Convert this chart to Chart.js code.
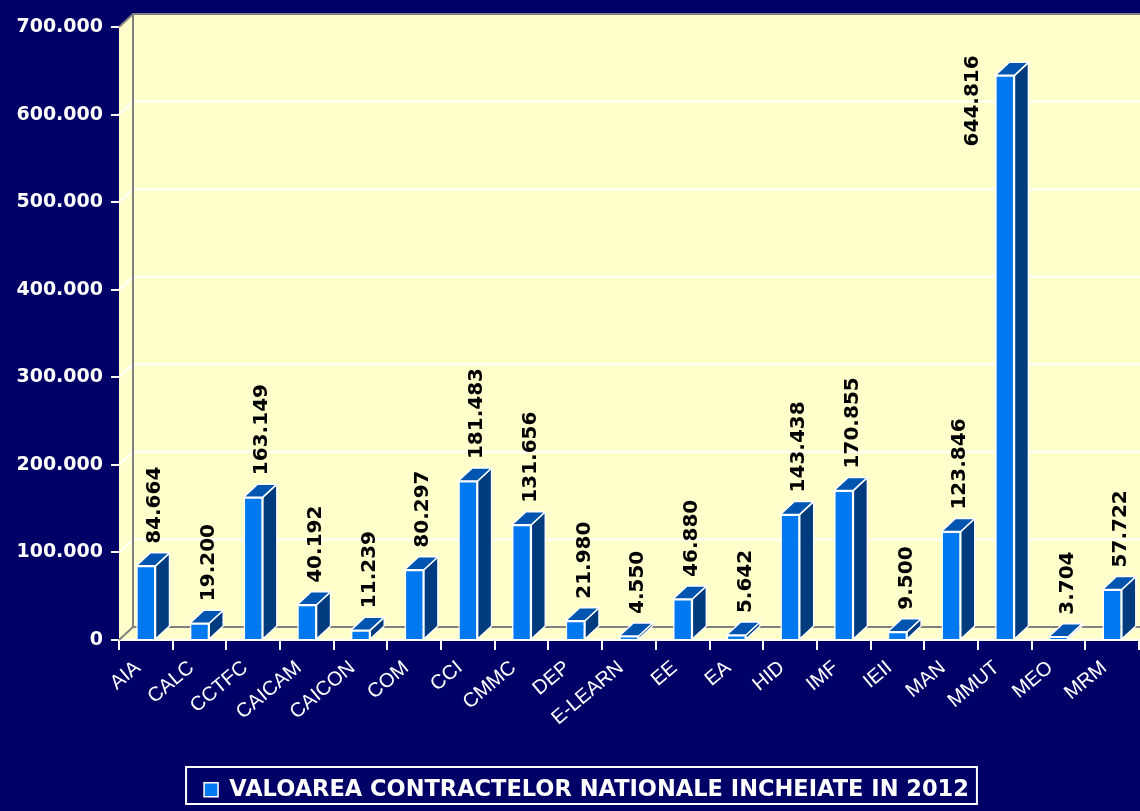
<!DOCTYPE html>
<html>
<head>
<meta charset="utf-8">
<script src="https://cdn.jsdelivr.net/npm/chart.js@4.4.1/dist/chart.umd.min.js"></script>
<style>
  html, body { margin: 0; padding: 0; background: #000066; }
  #wrap { width: 1140px; height: 811px; position: relative; }
</style>
</head>
<body>
<div id="wrap"><canvas id="chart"></canvas></div>
<script>
// Date grafic
const categories = ["AIA", "CALC", "CCTFC", "CAICAM", "CAICON", "COM", "CCI", "CMMC", "DEP", "E-LEARN",
  "EE", "EA", "HID", "IMF", "IEII", "MAN", "MMUT", "MEO", "MRM"];
const values = [84664, 19200, 163149, 40192, 11239, 80297, 181483, 131656, 21980, 4550,
  46880, 5642, 143438, 170855, 9500, 123846, 644816, 3704, 57722];
const seriesLabel = "VALOAREA CONTRACTELOR NATIONALE INCHEIATE IN 2012";
const yMax = 700000;
const yStep = 100000;

// Culori
const NAVY = "#000066";
const WALL = "#ffffcc";
const FRONT = "#0078f0";
const TOP = "#0055b0";
const SIDE = "#003c7d";
const EDGE = "#808080";

// adancimea 3D
const DX = 14;
const DY = 13;

function fmt(v) {
  return String(v).replace(/\B(?=(\d{3})+(?!\d))/g, ".");
}

// Plugin pentru peretii 3D, fetele laterale si etichete
const wall3d = {
  id: "wall3d",
  afterLayout(chart) {
    // legenda e putin deplasata spre dreapta in original
    if (chart.legend) {
      chart.legend.left += 17;
      chart.legend.right += 17;
    }
  },
  beforeDraw(chart) {
    const { ctx, chartArea: a, width, height } = chart;
    ctx.save();
    ctx.fillStyle = NAVY;
    ctx.fillRect(0, 0, width, height);
    ctx.fillStyle = WALL;
    ctx.beginPath();
    ctx.moveTo(a.left, a.top);
    ctx.lineTo(a.left + DX, a.top - DY);
    ctx.lineTo(width, a.top - DY);
    ctx.lineTo(width, a.bottom);
    ctx.lineTo(a.left, a.bottom);
    ctx.closePath();
    ctx.fill();
    ctx.restore();
  },
  beforeDatasetsDraw(chart) {
    const { ctx, chartArea: a, width } = chart;
    const y = chart.scales.y;
    ctx.save();
    ctx.lineWidth = 2;
    y.ticks.forEach((t) => {
      const py = y.getPixelForValue(t.value);
      const edge = t.value === y.min || t.value === y.max;
      ctx.strokeStyle = edge ? EDGE : "#ffffff";
      ctx.beginPath();
      ctx.moveTo(a.left, py);
      ctx.lineTo(a.left + DX, py - DY);
      ctx.lineTo(width, py - DY);
      ctx.stroke();
    });
    ctx.strokeStyle = EDGE;
    ctx.beginPath();
    ctx.moveTo(a.left + DX, a.top - DY);
    ctx.lineTo(a.left + DX, a.bottom - DY);
    ctx.stroke();
    ctx.restore();
  },
  afterDatasetsDraw(chart) {
    const { ctx, chartArea: a } = chart;
    const meta = chart.getDatasetMeta(0);
    ctx.save();
    ctx.lineWidth = 1.5;
    ctx.strokeStyle = "#ffffff";
    ctx.lineJoin = "round";
    meta.data.forEach((bar) => {
      const { x, y, base, width: w } = bar.getProps(["x", "y", "base", "width"], true);
      const r = x + w / 2;
      const l = x - w / 2;
      // fata laterala
      ctx.fillStyle = SIDE;
      ctx.beginPath();
      ctx.moveTo(r, base);
      ctx.lineTo(r + DX, base - DY);
      ctx.lineTo(r + DX, y - DY);
      ctx.lineTo(r, y);
      ctx.closePath();
      ctx.fill();
      ctx.stroke();
      // capac
      ctx.fillStyle = TOP;
      ctx.beginPath();
      ctx.moveTo(l, y);
      ctx.lineTo(l + DX, y - DY);
      ctx.lineTo(r + DX, y - DY);
      ctx.lineTo(r, y);
      ctx.closePath();
      ctx.fill();
      ctx.stroke();
    });
    // etichete valori
    ctx.font = "bold 20px 'DejaVu Sans'";
    ctx.fillStyle = "#000000";
    ctx.textAlign = "left";
    ctx.textBaseline = "middle";
    meta.data.forEach((bar, i) => {
      const { x, y, width: w } = bar.getProps(["x", "y", "width"], true);
      const txt = fmt(values[i]);
      const tw = ctx.measureText(txt).width;
      let lx = x + DX / 2 + 2;
      let ly = y - DY - 9;
      if (ly - tw < a.top - DY) {
        // nu incape deasupra, se pune langa bara
        lx = x - w / 2 - 22;
        ly = y - 20 + tw;
      }
      ctx.save();
      ctx.translate(lx, ly);
      ctx.rotate(-Math.PI / 2);
      ctx.fillText(txt, 0, 0);
      ctx.restore();
    });
    ctx.restore();
  },
  afterDraw(chart) {
    const hb = chart.legend && chart.legend.legendHitBoxes && chart.legend.legendHitBoxes[0];
    if (!hb) return;
    const ctx = chart.ctx;
    ctx.save();
    ctx.strokeStyle = "#ffffff";
    ctx.lineWidth = 2;
    ctx.strokeRect(hb.left - 18, hb.top - 11.5, hb.width + 26, hb.height + 14.5);
    ctx.restore();
  },
};

const ctx = document.getElementById("chart").getContext("2d");
new Chart(ctx, {
  type: "bar",
  data: {
    labels: categories,
    datasets: [
      {
        label: seriesLabel,
        data: values,
        backgroundColor: FRONT,
        borderColor: "#ffffff",
        borderWidth: 1.5,
        barPercentage: 0.36,
        categoryPercentage: 1,
      },
    ],
  },
  options: {
    responsive: true,
    maintainAspectRatio: false,
    animation: false,
    layout: { padding: { top: 27, right: 1, left: 0, bottom: 0 } },
    plugins: {
      legend: {
        position: "bottom",
        labels: {
          color: "#ffffff",
          font: { family: "'DejaVu Sans', sans-serif", size: 22.5, weight: "bold" },
          boxWidth: 14,
          boxHeight: 14,
          padding: 10,
        },
      },
      tooltip: { enabled: false },
    },
    scales: {
      x: {
        grid: { display: true, drawOnChartArea: false, drawTicks: true, tickLength: 10, color: "#ffffff", lineWidth: 2, offset: true },
        border: { display: true, color: "#ffffff", width: 2 },
        ticks: {
          color: "#ffffff",
          font: { family: "'Liberation Sans', Arial, sans-serif", size: 20 },
          minRotation: 40,
          maxRotation: 40,
          autoSkip: false,
          padding: 6,
          labelOffset: -8,
        },
        afterFit(scale) {
          scale.height = 128.5;
        },
      },
      y: {
        min: 0,
        max: yMax,
        grid: { display: true, drawOnChartArea: false, drawTicks: true, tickLength: 8, color: "#ffffff", lineWidth: 2 },
        border: { display: false },
        ticks: {
          stepSize: yStep,
          color: "#ffffff",
          font: { family: "'DejaVu Sans', sans-serif", size: 19, weight: "bold" },
          padding: 8,
          callback: (v) => fmt(v),
        },
        afterFit(scale) {
          scale.width = 119;
        },
      },
    },
  },
  plugins: [wall3d],
});
</script>
</body>
</html>
